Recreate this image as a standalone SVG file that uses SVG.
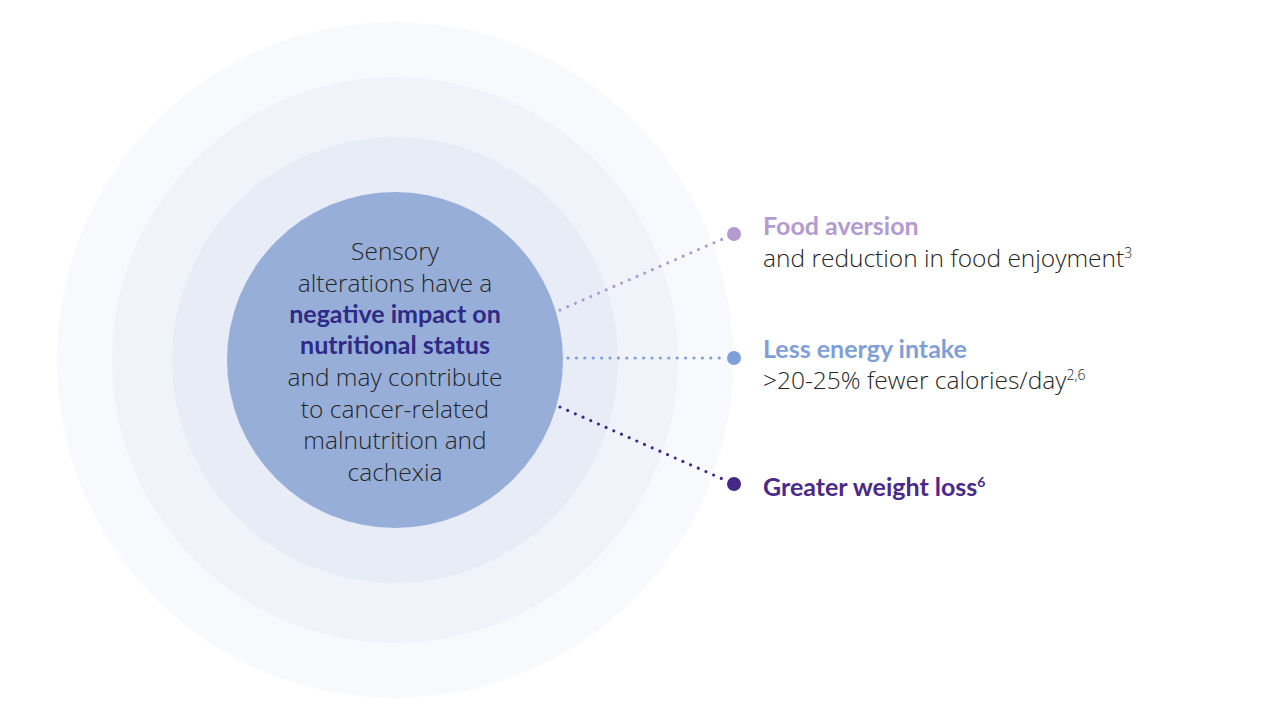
<svg xmlns="http://www.w3.org/2000/svg" width="1280" height="720" viewBox="0 0 1280 720">
<style>
.t{font-family:"Open Sans",Lato,"Liberation Sans",sans-serif;font-size:24.5px;fill:#262626;font-weight:300}
.b{font-family:Lato,"Open Sans","Liberation Sans",sans-serif;font-weight:700;font-size:25px}
.c{text-anchor:middle}
.dot{stroke-width:3.2;stroke-linecap:round;stroke-dasharray:0 8.4;fill:none}
</style>
<rect width="1280" height="720" fill="#ffffff"/>
<g id="rings">
<circle cx="395" cy="360" r="338" fill="#f8f9fc"/>
<circle cx="395" cy="360" r="283" fill="#f0f3f9"/>
<circle cx="395" cy="360" r="223" fill="#e7ecf6"/>
</g>
<g id="connectors">
<line class="dot" x1="560" y1="310" x2="726" y2="237.5" stroke="#b39ad0"/>
<line class="dot" x1="568" y1="358" x2="726" y2="358" stroke="#7f9fd9"/>
<line class="dot" x1="560" y1="407" x2="726" y2="480.5" stroke="#43288a"/>
<circle cx="734" cy="234" r="7" fill="#b39ad0"/>
<circle cx="734" cy="358" r="7" fill="#7f9fd9"/>
<circle cx="734" cy="484" r="7" fill="#43288a"/>
</g>
<g id="center">
<circle cx="395" cy="360" r="168" fill="#97aed9"/>
<text class="t c" x="395" y="260">Sensory</text>
<text class="t c" x="395" y="292">alterations have a</text>
<text class="t c b" x="395" y="323" style="fill:#2e2a86">negative impact on</text>
<text class="t c b" x="395" y="354" style="fill:#2e2a86">nutritional status</text>
<text class="t c" x="395" y="386">and may contribute</text>
<text class="t c" x="395" y="418">to cancer-related</text>
<text class="t c" x="395" y="449">malnutrition and</text>
<text class="t c" x="395" y="481">cachexia</text>
</g>
<g id="food-aversion">
<text class="t b" x="763" y="235" style="fill:#b39ad0">Food aversion</text>
<text class="t" x="763" y="267">and reduction in food enjoyment<tspan font-size="14" dy="-9">3</tspan></text>
</g>
<g id="less-energy">
<text class="t b" x="763" y="358" style="fill:#7f9fd9">Less energy intake</text>
<text class="t" x="763" y="389">&gt;20-25% fewer calories/day<tspan font-size="14" dy="-9">2,6</tspan></text>
</g>
<g id="weight-loss">
<text class="t b" x="763" y="496" style="fill:#4a2a8a">Greater weight loss<tspan font-size="14" dy="-9">6</tspan></text>
</g>
</svg>
